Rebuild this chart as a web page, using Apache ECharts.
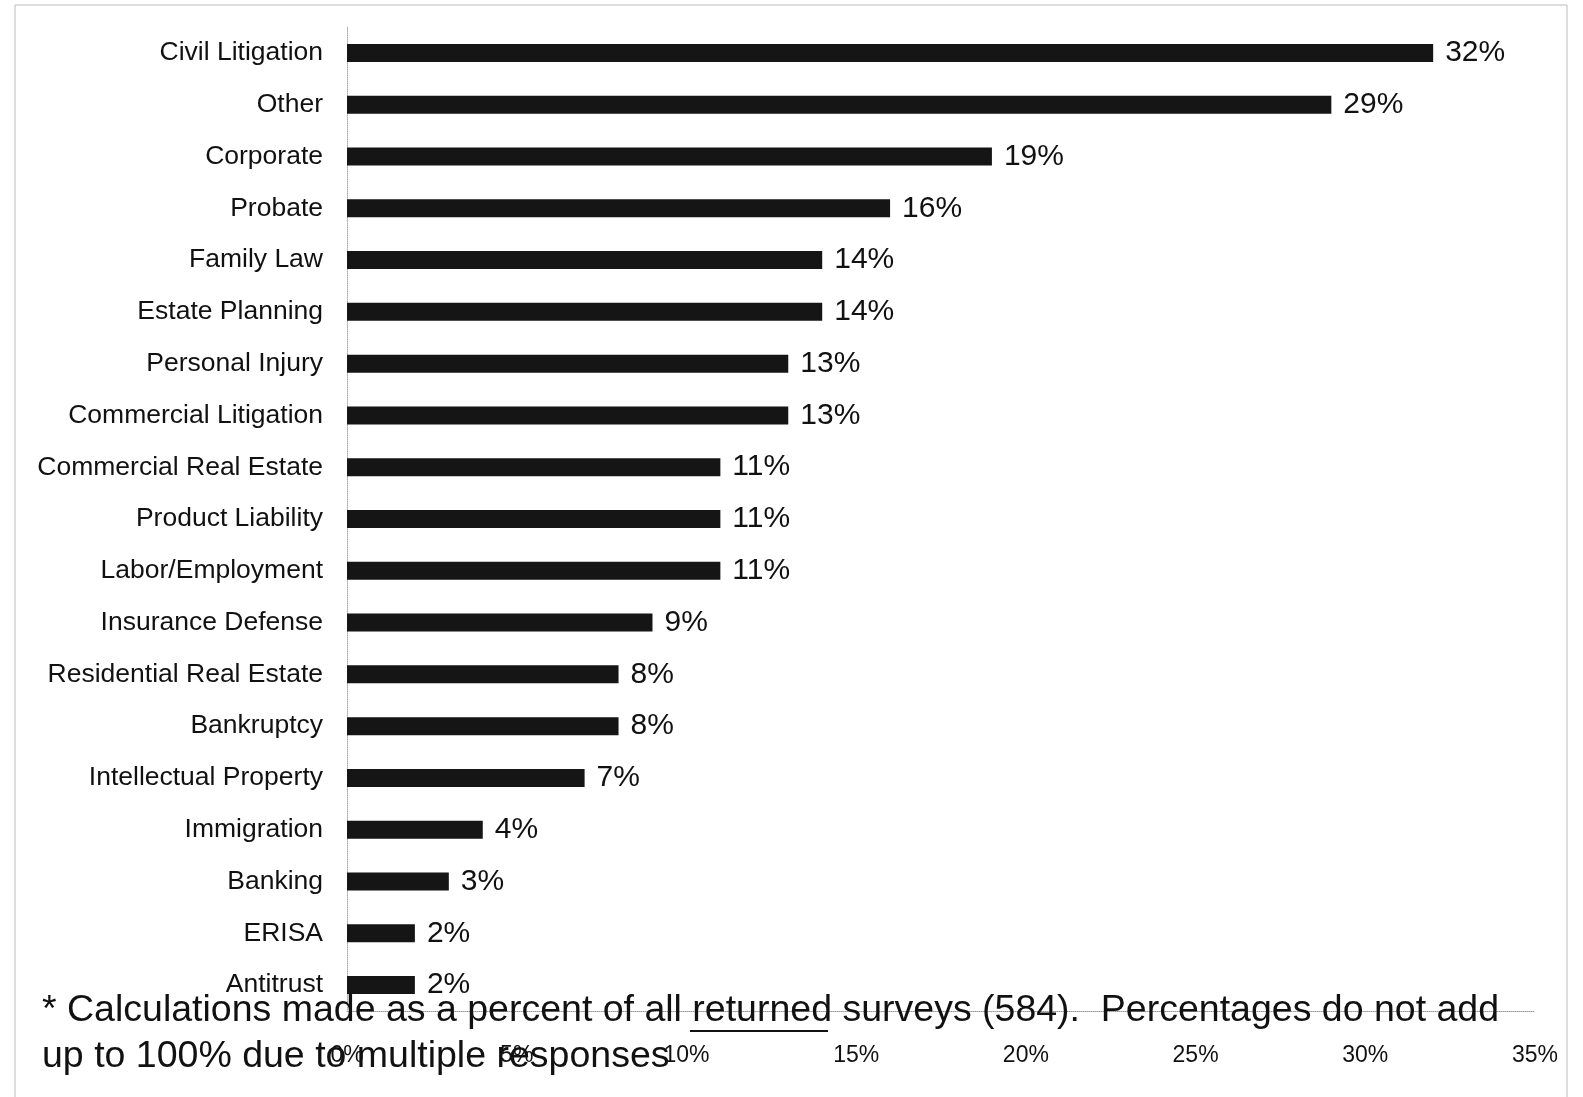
<!DOCTYPE html>
<html>
<head>
<meta charset="utf-8">
<script src="https://cdn.jsdelivr.net/npm/echarts@6/dist/echarts.min.js"></script>
<style>
html,body{margin:0;padding:0;background:#fff;}
#chart{width:1583px;height:1097px;}
</style>
</head>
<body>
<div id="chart"></div>
<script>
const categories = ["Civil Litigation","Other","Corporate","Probate","Family Law","Estate Planning","Personal Injury","Commercial Litigation","Commercial Real Estate","Product Liability","Labor/Employment","Insurance Defense","Residential Real Estate","Bankruptcy","Intellectual Property","Immigration","Banking","ERISA","Antitrust"];
const values = [32,29,19,16,14,14,13,13,11,11,11,9,8,8,7,4,3,2,2];
const xTicks = [0,5,10,15,20,25,30,35];
const footnoteLine1 = "* Calculations made as a percent of all returned surveys (584).  Percentages do not add";
const footnoteLine2 = "up to 100% due to multiple responses";

const chart = echarts.init(document.getElementById('chart'));
chart.setOption({
  backgroundColor:'#fff',
  animation:false,
  grid:{left:347,right:48,top:27,bottom:86,containLabel:false},
  xAxis:{
    type:'value',min:xTicks[0],max:xTicks[xTicks.length-1],interval:xTicks[1]-xTicks[0],
    axisLine:{show:true,lineStyle:{color:'#999',type:'dotted',width:1}},
    axisTick:{show:false},
    splitLine:{show:false},
    axisLabel:{margin:33,formatter:v=>v+'%',color:'#111',fontFamily:'"Liberation Sans",Arial,sans-serif',fontSize:23}
  },
  yAxis:{
    type:'category',data:categories,inverse:true,
    axisLine:{show:true,lineStyle:{color:'#aaa',type:'dotted',width:1}},
    axisTick:{show:false},
    axisLabel:{margin:24,color:'#111',fontFamily:'"Liberation Sans",Arial,sans-serif',fontSize:26.5}
  },
  series:[{
    type:'bar',data:values,barWidth:18,
    itemStyle:{color:'#151515'},
    label:{show:true,position:'right',distance:12,formatter:p=>p.value+'%',color:'#111',fontFamily:'"Liberation Sans",Arial,sans-serif',fontSize:30}
  }],
  graphic:[
    {type:'rect',shape:{x:15,y:5,width:1552,height:1100},style:{fill:null,stroke:'#bbb',lineWidth:1},silent:true,z:-1},
    {type:'text',x:42,y:1011,style:{text:footnoteLine1,fill:'#111',font:'37.5px "Liberation Sans", Arial, sans-serif',verticalAlign:'middle',align:'left'},z:100},
    {type:'text',x:42,y:1057,style:{text:footnoteLine2,fill:'#111',font:'37.5px "Liberation Sans", Arial, sans-serif',verticalAlign:'middle',align:'left'},z:100},
    {type:'line',shape:{x1:690,y1:1031,x2:828,y2:1031},style:{stroke:'#111',lineWidth:2},z:100}
  ]
});
</script>
</body>
</html>
